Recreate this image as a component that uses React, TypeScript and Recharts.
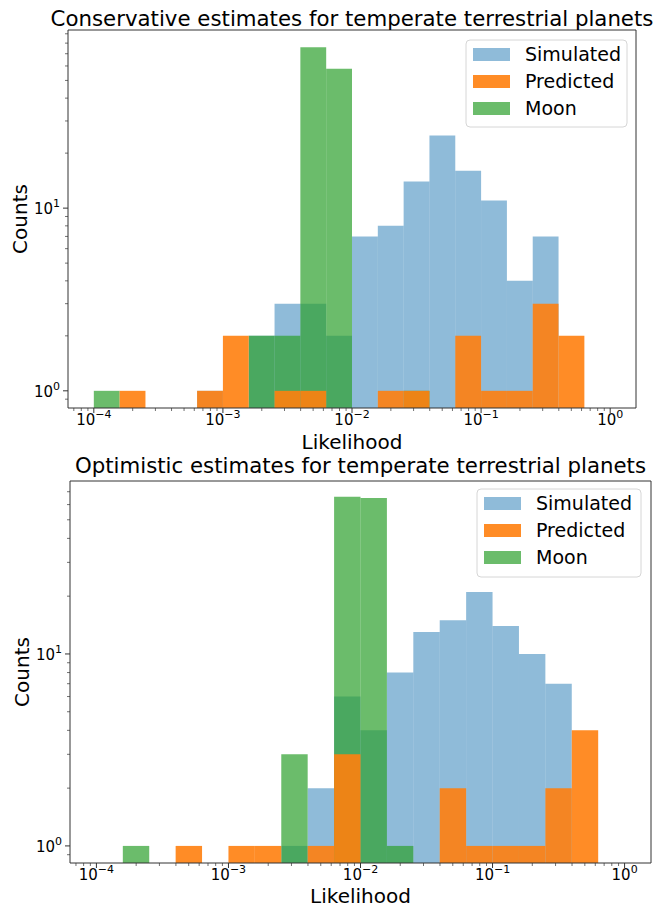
import React from "react";
import { ComposedChart, XAxis, YAxis, ReferenceArea } from "recharts";

// histogram bin edges (0.2 dex wide, 1e-4 .. 1)
const binEdges = [
  1e-4, 1.585e-4, 2.512e-4, 3.981e-4, 6.31e-4,
  1e-3, 1.585e-3, 2.512e-3, 3.981e-3, 6.31e-3,
  1e-2, 1.585e-2, 2.512e-2, 3.981e-2, 6.31e-2,
  1e-1, 0.1585, 0.2512, 0.3981, 0.631, 1,
];

const seriesNames = ["Simulated", "Predicted", "Moon"];

// conservative estimates, counts per bin
const consSimulated = [0, 0, 0, 0, 1, 0, 2, 3, 3, 2, 7, 8, 14, 25, 16, 11, 4, 7, 0, 0];
const consPredicted = [0, 1, 0, 0, 1, 2, 0, 1, 1, 0, 0, 1, 1, 0, 2, 1, 1, 3, 2, 0];
const consMoon = [1, 0, 0, 0, 0, 0, 2, 2, 76, 58, 0, 0, 1, 0, 0, 0, 0, 0, 0, 0];

// optimistic estimates, counts per bin
const optSimulated = [0, 0, 0, 0, 0, 0, 0, 1, 2, 6, 4, 8, 13, 15, 21, 14, 10, 7, 0, 0];
const optPredicted = [0, 0, 0, 1, 0, 1, 1, 0, 1, 3, 0, 0, 0, 2, 1, 1, 1, 2, 4, 0];
const optMoon = [0, 1, 0, 0, 0, 0, 0, 3, 0, 66, 65, 1, 0, 0, 0, 0, 0, 0, 0, 0];

const decades = [-5, -4, -3, -2, -1, 0, 1, 2];
const mults = [1, 2, 3, 4, 5, 6, 7, 8, 9];

const BLUE = "#1f77b4";
const ORANGE = "#ff7f0e";
const GREEN = "#2ca02c";
const FONT = "'DejaVu Sans', Verdana, sans-serif";

const logTicks = (lo: number, hi: number) => {
  const out: number[] = [];
  decades.forEach((d) => mults.forEach((m) => {
    const v = m * Math.pow(10, d);
    if (v >= lo && v <= hi) out.push(Number(v.toPrecision(3)));
  }));
  return out;
};

const isMajor = (v: number) => {
  const e = Math.log10(v);
  return Math.abs(e - Math.round(e)) < 1e-6;
};

const supText = (n: number) => (n < 0 ? "\u2212" + Math.abs(n) : String(n));

function XTick(props: any) {
  const { x, y, payload } = props;
  const v = payload.value;
  const major = isMajor(v);
  return (
    <g>
      <line x1={x} x2={x} y1={y} y2={y + (major ? 5 : 3)} stroke="#333" strokeWidth={major ? 1 : 0.7} />
      {major && (
        <text x={x} y={y + 17} textAnchor="middle" fontSize={15} fontFamily={FONT} fill="#000">
          10<tspan dy={-7} fontSize={11}>{supText(Math.round(Math.log10(v)))}</tspan>
        </text>
      )}
    </g>
  );
}

function YTick(props: any) {
  const { x, y, payload } = props;
  const v = payload.value;
  const major = isMajor(v);
  return (
    <g>
      <line x1={x} x2={x - (major ? 5 : 3)} y1={y} y2={y} stroke="#333" strokeWidth={major ? 1 : 0.7} />
      {major && (
        <text x={x - 8} y={y + 6} textAnchor="end" fontSize={15} fontFamily={FONT} fill="#000">
          10<tspan dy={-7} fontSize={11}>{supText(Math.round(Math.log10(v)))}</tspan>
        </text>
      )}
    </g>
  );
}

type PanelProps = {
  top: number;
  title: string;
  sim: number[];
  pred: number[];
  moon: number[];
  xDomain: [number, number];
  yDomain: [number, number];
  plot: { left: number; right: number; top: number; bottom: number };
  titleY: number;
  xLabelY: number;
  yLabelX: number;
  legend: { x: number; y: number; w: number; h: number };
};

function Panel(p: PanelProps) {
  const W = 668;
  const H = 454;
  const xTicks = logTicks(p.xDomain[0], p.xDomain[1]);
  const yTicks = logTicks(p.yDomain[0], p.yDomain[1]);
  const data = binEdges.slice(0, -1).map((lo, i) => ({ x: Math.sqrt(lo * binEdges[i + 1]) }));
  // axes take 1px each, margins set so the plot box lands on p.plot
  const margin = {
    top: p.plot.top,
    left: p.plot.left - 1,
    right: W - p.plot.right,
    bottom: H - p.plot.bottom - 1,
  };

  const areas = (vals: number[], color: string, op: number, key: string) =>
    vals.map((c, i) =>
      c > 0 ? (
        <ReferenceArea
          key={key + i}
          x1={binEdges[i]}
          x2={binEdges[i + 1]}
          y1={p.yDomain[0]}
          y2={c}
          fill={color}
          fillOpacity={op}
          stroke="none"
          ifOverflow="visible"
        />
      ) : null
    );

  const colors = [BLUE, ORANGE, GREEN];
  const ops = [0.5, 0.9, 0.7];
  const midX = (p.plot.left + p.plot.right) / 2;
  const midY = (p.plot.top + p.plot.bottom) / 2;

  return (
    <div style={{ position: "absolute", left: 0, top: p.top, width: W, height: H }}>
      <ComposedChart width={W} height={H} data={data} margin={margin}>
        <XAxis
          dataKey="x"
          type="number"
          scale="log"
          domain={p.xDomain}
          allowDataOverflow
          ticks={xTicks}
          interval={0}
          tick={<XTick />}
          tickLine={false}
          axisLine={false}
          tickSize={0}
          tickMargin={0}
          height={1}
        />
        <YAxis
          type="number"
          scale="log"
          domain={p.yDomain}
          allowDataOverflow
          ticks={yTicks}
          interval={0}
          tick={<YTick />}
          tickLine={false}
          axisLine={false}
          tickSize={0}
          tickMargin={0}
          width={1}
        />
        {areas(p.sim, BLUE, 0.5, "s")}
        {areas(p.moon, GREEN, 0.7, "m")}
        {areas(p.pred, ORANGE, 0.9, "p")}
        <ReferenceArea
          x1={p.xDomain[0]}
          x2={p.xDomain[1]}
          y1={p.yDomain[0]}
          y2={p.yDomain[1]}
          fill="none"
          stroke="#333"
          strokeWidth={1}
          ifOverflow="visible"
        />
      </ComposedChart>
      <svg
        width={W}
        height={H}
        style={{ position: "absolute", left: 0, top: 0, pointerEvents: "none" }}
        fontFamily={FONT}
      >
        <text x={midX} y={p.titleY} textAnchor="middle" fontSize={21.3} fill="#000">
          {p.title}
        </text>
        <text x={midX} y={p.xLabelY} textAnchor="middle" fontSize={20} fill="#000">
          Likelihood
        </text>
        <text
          x={p.yLabelX}
          y={midY}
          textAnchor="middle"
          fontSize={20}
          fill="#000"
          transform={`rotate(-90 ${p.yLabelX} ${midY})`}
        >
          Counts
        </text>
        <g transform={`translate(${p.legend.x} ${p.legend.y})`}>
          <rect x={0} y={0} width={p.legend.w} height={p.legend.h} rx={4} fill="#fff" fillOpacity={0.8} stroke="#d6d6d6" />
          {seriesNames.map((name, i) => (
            <g key={name} transform={`translate(0 ${8 + i * 27})`}>
              <rect x={7} y={0} width={37} height={13} fill={colors[i]} fillOpacity={ops[i]} />
              <text x={59} y={13} fontSize={19} fill="#000">
                {name}
              </text>
            </g>
          ))}
        </g>
      </svg>
    </div>
  );
}

export default function App() {
  return (
    <div style={{ position: "absolute", left: 0, top: 0, width: 668, height: 908, background: "#fff", fontFamily: FONT }}>
      <Panel
        top={0}
        title="Conservative estimates for temperate terrestrial planets"
        sim={consSimulated}
        pred={consPredicted}
        moon={consMoon}
        xDomain={[Math.pow(10, -4.2), Math.pow(10, 0.2)]}
        yDomain={[Math.pow(10, -0.094), Math.pow(10, 1.975)]}
        plot={{ left: 68, right: 636, top: 30, bottom: 408 }}
        titleY={26}
        xLabelY={449}
        yLabelX={27}
        legend={{ x: 466, y: 40, w: 161, h: 87 }}
      />
      <Panel
        top={454}
        title="Optimistic estimates for temperate terrestrial planets"
        sim={optSimulated}
        pred={optPredicted}
        moon={optMoon}
        xDomain={[Math.pow(10, -4.2), Math.pow(10, 0.2)]}
        yDomain={[Math.pow(10, -0.089), Math.pow(10, 1.901)]}
        plot={{ left: 70, right: 651, top: 27, bottom: 409 }}
        titleY={19}
        xLabelY={449}
        yLabelX={29}
        legend={{ x: 477, y: 35, w: 164, h: 88 }}
      />
    </div>
  );
}
